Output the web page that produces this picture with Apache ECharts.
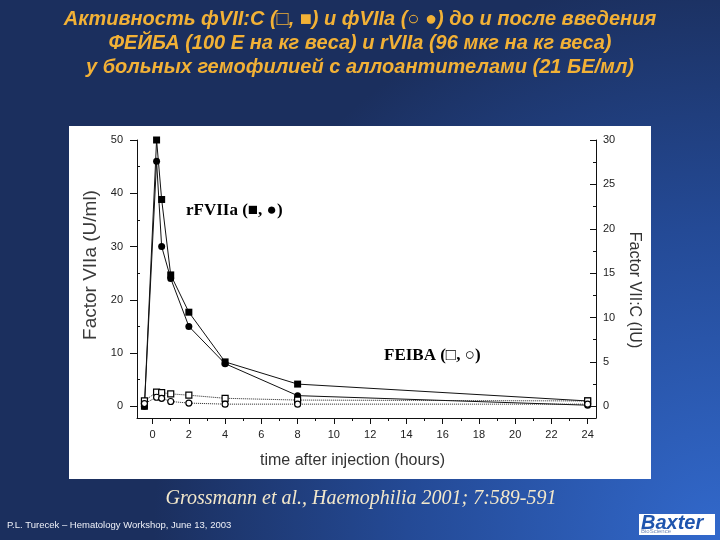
<!DOCTYPE html>
<html>
<head>
<meta charset="utf-8">
<script src="https://cdn.jsdelivr.net/npm/echarts@6/dist/echarts.min.js"></script>
<style>
  html, body { margin: 0; padding: 0; }
  #chart { width: 720px; height: 540px; }
</style>
</head>
<body>
<div id="chart"></div>
<script>
  // time points (hours): pre-dose, ~15 min, 30 min, 1, 2, 4, 8, 24 h
  var hours = [-0.45, 0.22, 0.5, 1, 2, 4, 8, 24];

  // rFVIIa group (filled markers)
  var rfSquareVIIC = [0, 30, 23.3, 14.8, 10.6, 5.0, 2.5, 0.6];   // Factor VII:C, IU (right axis)
  var rfCircleVIIa = [0, 46, 30, 24, 15, 8, 2, 0.2];              // Factor VIIa, U/ml (left axis)

  // FEIBA group (open markers)
  var feibaSquareVIIC = [0.6, 1.6, 1.55, 1.4, 1.25, 0.9, 0.7, 0.6];
  var feibaCircleVIIa = [0.5, 1.7, 1.5, 0.9, 0.6, 0.4, 0.4, 0.4];

  // axis ticks
  var hourTicks = [0, 2, 4, 6, 8, 10, 12, 14, 16, 18, 20, 22, 24];
  var hourMinor = [1, 3, 5, 7, 9, 11, 13, 15, 17, 19, 21, 23];
  var leftTicks = [0, 10, 20, 30, 40, 50];
  var leftMinor = [5, 15, 25, 35, 45];
  var rightTicks = [0, 5, 10, 15, 20, 25, 30];
  var rightMinor = [2.5, 7.5, 12.5, 17.5, 22.5, 27.5];

  function pairs(ys) {
    return hours.map(function (h, i) { return [h, ys[i]]; });
  }

  var chart = echarts.init(document.getElementById('chart'));

  var tickFont = { fontFamily: 'Liberation Sans', fontSize: 11, color: '#222' };
  var axisLine = { show: true, onZero: false, lineStyle: { color: '#111', width: 1 } };
  var noLine = { show: false, onZero: false };

  var option = {
    animation: false,
    backgroundColor: {
      type: 'radial', x: 1, y: 1, r: 1.05,
      colorStops: [
        { offset: 0, color: '#3269cc' },
        { offset: 0.55, color: '#244a96' },
        { offset: 1, color: '#1b2f5e' }
      ]
    },
    grid: { left: 137, right: 124, top: 140, bottom: 122 },
    xAxis: [
      {
        type: 'value', min: -0.86, max: 24.46,
        name: 'time after injection (hours)', nameLocation: 'middle', nameGap: 35,
        nameTextStyle: { fontFamily: 'Liberation Sans', fontSize: 16, color: '#333', padding: [0, 28, 0, 0] },
        axisLine: axisLine,
        axisTick: { show: true, length: 6, customValues: hourTicks, lineStyle: { color: '#111' } },
        axisLabel: Object.assign({ customValues: hourTicks, margin: 11 }, tickFont),
        splitLine: { show: false }
      },
      {
        type: 'value', min: -0.86, max: 24.46, position: 'bottom',
        axisLine: noLine,
        axisTick: { show: true, length: 3, customValues: hourMinor, lineStyle: { color: '#111' } },
        axisLabel: { show: false },
        splitLine: { show: false }
      }
    ],
    yAxis: [
      {
        type: 'value', min: -2.2, max: 50,
        name: 'Factor VIIa (U/ml)', nameLocation: 'middle', nameGap: 34,
        nameTextStyle: { fontFamily: 'Liberation Sans', fontSize: 19, color: '#3a3a3a', padding: [0, 0, 0, 28] },
        axisLine: axisLine,
        axisTick: { show: true, length: 7, customValues: leftTicks, lineStyle: { color: '#111' } },
        axisLabel: Object.assign({ customValues: leftTicks, margin: 14 }, tickFont),
        splitLine: { show: false }
      },
      {
        type: 'value', min: -1.32, max: 30, position: 'right',
        name: 'Factor VII:C (IU)', nameLocation: 'middle', nameGap: 28, nameRotate: -90,
        nameTextStyle: { fontFamily: 'Liberation Sans', fontSize: 16, color: '#333', padding: [0, 0, 0, 22] },
        axisLine: axisLine,
        axisTick: { show: true, inside: true, length: 6, customValues: rightTicks, lineStyle: { color: '#111' } },
        axisLabel: Object.assign({ customValues: rightTicks, margin: 7 }, tickFont),
        splitLine: { show: false }
      },
      {
        type: 'value', min: -2.2, max: 50, position: 'left',
        axisLine: noLine,
        axisTick: { show: true, inside: true, length: 3, customValues: leftMinor, lineStyle: { color: '#111' } },
        axisLabel: { show: false },
        splitLine: { show: false }
      },
      {
        type: 'value', min: -1.32, max: 30, position: 'right',
        axisLine: noLine,
        axisTick: { show: true, inside: true, length: 3, customValues: rightMinor, lineStyle: { color: '#111' } },
        axisLabel: { show: false },
        splitLine: { show: false }
      }
    ],
    series: [
      {
        name: 'rFVIIa VII:C', type: 'line', yAxisIndex: 1,
        data: pairs(rfSquareVIIC),
        symbol: 'rect', symbolSize: 7, showAllSymbol: true,
        itemStyle: { color: '#000' },
        lineStyle: { color: '#111', width: 1 }
      },
      {
        name: 'rFVIIa VIIa', type: 'line', yAxisIndex: 0,
        data: pairs(rfCircleVIIa),
        symbol: 'circle', symbolSize: 7, showAllSymbol: true,
        itemStyle: { color: '#000' },
        lineStyle: { color: '#111', width: 1 }
      },
      {
        name: 'FEIBA VII:C', type: 'line', yAxisIndex: 1,
        data: pairs(feibaSquareVIIC),
        symbol: 'rect', symbolSize: 6, showAllSymbol: true,
        itemStyle: { color: '#fff', borderColor: '#000', borderWidth: 1.2 },
        lineStyle: { color: '#222', width: 1, type: 'dotted' }
      },
      {
        name: 'FEIBA VIIa', type: 'line', yAxisIndex: 0,
        data: pairs(feibaCircleVIIa),
        symbol: 'circle', symbolSize: 6, showAllSymbol: true,
        itemStyle: { color: '#fff', borderColor: '#000', borderWidth: 1.2 },
        lineStyle: { color: '#222', width: 1, type: 'dotted' }
      }
    ],
    graphic: [
      // white plot card
      { type: 'rect', z: -10, shape: { x: 69, y: 126, width: 582, height: 353 }, style: { fill: '#fff' } },
      // slide title
      {
        type: 'text', x: 360, y: 7,
        style: {
          text: 'Активность фVII:C (□, ■) и фVIIa (○ ●) до и после введения\nФЕЙБА (100 Е на кг веса) и rVIIa (96 мкг на кг веса)\nу больных гемофилией с аллоантителами (21 БЕ/мл)',
          fill: '#f2b136', align: 'center', verticalAlign: 'top', lineHeight: 24,
          font: 'italic bold 20px "Liberation Sans Narrow", "Liberation Sans", sans-serif'
        }
      },
      // in-plot labels
      {
        type: 'text', left: 186, top: 202,
        style: { text: 'rFVIIa (■, ●)', fill: '#000', font: 'bold 17px "Liberation Serif", serif' }
      },
      {
        type: 'text', left: 384, top: 347,
        style: { text: 'FEIBA (□, ○)', fill: '#000', font: 'bold 17px "Liberation Serif", serif' }
      },
      // citation
      {
        type: 'text', x: 361, y: 489,
        style: { text: 'Grossmann et al., Haemophilia 2001; 7:589-591', fill: '#f3e8cb', align: 'center', verticalAlign: 'top', font: 'italic 20px "Liberation Serif", serif' }
      },
      // footer
      {
        type: 'text', left: 7, top: 520,
        style: { text: 'P.L. Turecek – Hematology Workshop, June 13, 2003', fill: '#eef0f8', font: '9.5px "Liberation Sans", sans-serif' }
      },
      // logo
      { type: 'rect', shape: { x: 639, y: 514, width: 76, height: 21 }, style: { fill: '#fff' } },
      {
        type: 'text', x: 641, y: 513,
        style: { text: 'Baxter', fill: '#1f55ae', verticalAlign: 'top', font: 'italic bold 20px "Liberation Sans", sans-serif' }
      },
      {
        type: 'text', x: 641, y: 528,
        style: { text: 'BioScience', fill: '#6f88b8', verticalAlign: 'top', font: '6px "Liberation Sans", sans-serif' }
      }
    ]
  };

  option && chart.setOption(option);
</script>
</body>
</html>
